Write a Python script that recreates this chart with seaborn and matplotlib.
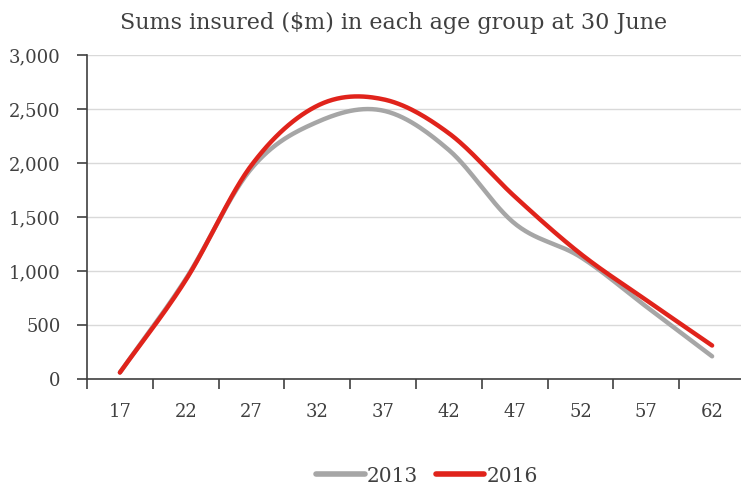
import numpy as np
import pandas as pd
import matplotlib
matplotlib.use("Agg")
import matplotlib.pyplot as plt
import seaborn as sns
from matplotlib.lines import Line2D

ages = [17, 22, 27, 32, 37, 42, 47, 52, 57, 62]
sums_2013 = [60, 925, 1950, 2380, 2485, 2120, 1440, 1130, 670, 210]
sums_2016 = [60, 915, 1980, 2530, 2590, 2275, 1690, 1160, 730, 310]
series = {"2013": sums_2013, "2016": sums_2016}
colors = {"2013": "#A6A6A6", "2016": "#E0231B"}

def smooth(y, n=30):
    # Catmull-Rom spline through the points (display smoothing like Excel)
    y = np.asarray(y, float)
    x = np.arange(len(y), dtype=float)
    P = np.concatenate([[2 * y[0] - y[1]], y, [2 * y[-1] - y[-2]]])
    xs, ys = [], []
    for i in range(len(y) - 1):
        p0, p1, p2, p3 = P[i], P[i + 1], P[i + 2], P[i + 3]
        t = np.linspace(0, 1, n, endpoint=(i == len(y) - 2))
        yy = 0.5 * ((2 * p1) + (-p0 + p2) * t + (2 * p0 - 5 * p1 + 4 * p2 - p3) * t ** 2
                    + (-p0 + 3 * p1 - 3 * p2 + p3) * t ** 3)
        xs.append(x[i] + t)
        ys.append(yy)
    return np.concatenate(xs), np.concatenate(ys)

rows = []
for name, vals in series.items():
    xs, ys = smooth(vals)
    rows.append(pd.DataFrame({"pos": xs, "value": ys, "year": name}))
df = pd.concat(rows, ignore_index=True)

sns.set_theme(style="white")
plt.rcParams["font.family"] = ["DejaVu Serif"]

fig = plt.figure(figsize=(7.41, 4.86), dpi=100)
ax = fig.add_axes([87 / 741, 1 - 379 / 486, (745 - 87) / 741, (379 - 55) / 486])

sns.lineplot(data=df, x="pos", y="value", hue="year", palette=colors, ax=ax,
             linewidth=3.2, legend=False, sort=False)

ax.set_xlim(-0.5, len(ages) - 0.5)
ax.set_ylim(0, 3000)
ax.set_yticks(np.arange(0, 3001, 500))
ax.set_yticklabels([f"{v:,}" for v in range(0, 3001, 500)])
ax.yaxis.grid(True, color="#D9D9D9", linewidth=1)
ax.set_axisbelow(True)

ax.set_xticks(np.arange(-0.5, len(ages), 1.0))
ax.set_xticklabels([])
ax.set_xticks(np.arange(len(ages)), minor=True)
ax.set_xticklabels([str(a) for a in ages], minor=True)
ax.tick_params(axis="x", which="major", direction="out", length=7, width=1.2, color="#404040", bottom=True)
ax.tick_params(axis="x", which="minor", length=0, pad=17, labelsize=13, labelcolor="#404040")
ax.tick_params(axis="y", direction="out", length=7, width=1.2, color="#404040", left=True,
               pad=12, labelsize=13, labelcolor="#404040")

for s in ["top", "right"]:
    ax.spines[s].set_visible(False)
for s in ["left", "bottom"]:
    ax.spines[s].set_color("#404040")
    ax.spines[s].set_linewidth(1.2)

ax.set_xlabel("")
ax.set_ylabel("")

fig.text(394 / 741, 1 - 23 / 486, "Sums insured ($m) in each age group at 30 June",
         ha="center", va="center", fontsize=16, color="#404040")

handles = [Line2D([], [], color=colors[k], linewidth=4) for k in series]
fig.legend(handles, list(series.keys()), loc="center", bbox_to_anchor=(427 / 741, 1 - 476 / 486),
           ncol=2, frameon=False, fontsize=14.5, handlelength=2.4, handletextpad=0.1,
           columnspacing=0.9, labelcolor="#404040")

fig.savefig("out.png", dpi=100)
